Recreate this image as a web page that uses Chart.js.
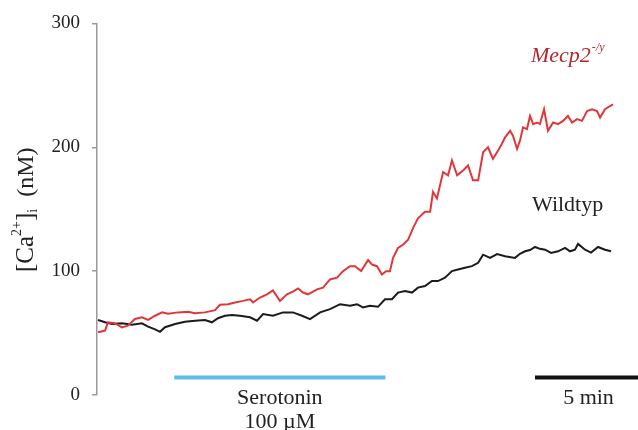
<!DOCTYPE html>
<html>
<head>
<meta charset="utf-8">
<script src="https://cdn.jsdelivr.net/npm/chart.js@4"></script>
<style>
  html, body { margin: 0; padding: 0; background: #fff; }
  #wrap { width: 638px; height: 430px; }
</style>
</head>
<body>
<div id="wrap"><canvas id="caChart" width="638" height="430"></canvas></div>
<script>
// time in minutes, [Ca2+]i in nM
const mecpTime = [0.05, 0.39, 0.53, 0.87, 1.21, 1.50, 1.84, 2.18, 2.48, 2.82, 3.16, 3.45, 3.93, 4.42, 4.76,
  5.24, 5.73, 5.97, 6.36, 6.70, 7.09, 7.43, 7.57, 7.91, 8.25, 8.54, 8.88, 9.22, 9.51, 9.76, 10.00, 10.24,
  10.68, 10.97, 11.31, 11.65, 11.94, 12.28, 12.52, 12.82, 13.16, 13.35, 13.59, 13.83, 14.03, 14.22, 14.37,
  14.61, 14.85, 15.10, 15.34, 15.58, 15.92, 16.17, 16.31, 16.50, 16.80, 17.04, 17.23, 17.48, 17.77, 18.01,
  18.25, 18.50, 18.74, 18.98, 19.22, 19.47, 19.66, 19.81, 20.05, 20.19, 20.39, 20.53, 20.68, 20.87, 21.02,
  21.17, 21.36, 21.50, 21.70, 21.89, 22.14, 22.38, 22.62, 22.86, 23.06, 23.30, 23.54, 23.79, 24.03, 24.27,
  24.42, 24.66, 24.90, 25.05];
const mecpCa = [50.6, 52, 58.6, 58, 54.6, 56, 61.4, 62.7, 60.6, 64, 66.7, 65.6, 66.7, 67.2, 66,
  66.7, 68.5, 72.8, 73.3, 74.7, 76, 77.3, 74.7, 78.7, 81.3, 84.5, 76, 81.3, 83.5, 86, 82.7, 81.3,
  85.3, 86.7, 93.3, 94.7, 100, 104, 104, 100, 109, 105.3, 104, 97.3, 100, 100, 110.7,
  118.7, 121.3, 125.3, 134.7, 142.7, 148, 148, 164, 158.7, 180, 177.3, 189.3, 177.3, 181.3, 185.3,
  173.3, 173.3, 196, 200, 190.7, 197.3, 203, 208, 213.3, 209.3, 198.7, 205.3, 216, 214.7, 225.3,
  218.7, 220, 218.7, 230.7, 213.3, 220, 218.7, 221.3, 225.3, 220, 222.7, 221.3, 229.3, 230.7, 229.3,
  224, 230.7, 233.3, 234.7];

const wtTime = [0.05, 0.39, 0.73, 1.21, 1.70, 2.18, 2.48, 2.82, 3.06, 3.30, 3.79, 4.27, 4.76, 5.24, 5.58,
  5.87, 6.21, 6.55, 6.94, 7.43, 7.77, 8.06, 8.54, 9.03, 9.51, 9.95, 10.34, 10.83, 11.31, 11.80, 12.28,
  12.62, 12.91, 13.25, 13.64, 13.98, 14.32, 14.61, 14.95, 15.29, 15.58, 15.92, 16.26, 16.55, 16.89, 17.23,
  17.52, 17.86, 18.20, 18.50, 18.74, 19.08, 19.42, 19.81, 20.29, 20.53, 20.78, 21.02, 21.26, 21.50, 21.75,
  22.04, 22.38, 22.72, 22.96, 23.20, 23.35, 23.69, 23.98, 24.32, 24.66, 24.95];
const wtCa = [60.5, 58.7, 57.3, 57.9, 56.8, 57.9, 55.2, 53, 51, 54.7, 57.3, 59.2, 60, 60.5, 58.7,
  62, 64, 64.5, 64, 62.7, 60, 65.3, 64, 66.7, 66.7, 64, 61.3, 66.7, 69.3, 73.3, 72,
  73.3, 70.7, 72, 71.2, 77.3, 77.3, 82.7, 84, 82.7, 86.7, 88, 92, 92, 94.7, 100,
  101.3, 102.7, 104, 106.7, 113.3, 110.7, 113.8, 112, 110.7, 114, 116, 117, 119.5, 118, 117.3,
  114.7, 116, 118.7, 116, 117.3, 122, 117.3, 115, 119.5, 117.3, 116];

const serotoninMin = [3.75, 14.0];   // application period
const scaleBarMin = [21.26, 26.26];  // 5 min
const barLevel = 14.2;               // nM level where the two bars sit
const yTicks = [0, 100, 200, 300];

const xMax = 26.26;
const serif = "'Liberation Serif', 'DejaVu Serif', serif";

function pairs(xs, ys) {
  return xs.map((x, i) => ({ x: x, y: ys[i] }));
}

const labelsPlugin = {
  id: 'labels',
  afterDraw(chart) {
    const ctx = chart.ctx;
    const xs = chart.scales.x, ys = chart.scales.y;
    ctx.save();
    ctx.textBaseline = 'alphabetic';

    // y axis title: [Ca2+]i (nM), drawn upward from y=272
    ctx.translate(33, 272);
    ctx.rotate(-Math.PI / 2);
    const parts = [
      { t: '[Ca', f: '25px ' + serif, dy: 0 },
      { t: '2+', f: '14px ' + serif, dy: -12 },
      { t: ']', f: '25px ' + serif, dy: 0 },
      { t: 'i', f: '14px ' + serif, dy: 4 },
      { t: '  (nM)', f: '24px ' + serif, dy: 0 }
    ];
    let cx = 0;
    ctx.fillStyle = '#222';
    ctx.textAlign = 'left';
    parts.forEach(p => {
      ctx.font = p.f;
      ctx.fillText(p.t, cx, p.dy);
      cx += ctx.measureText(p.t).width;
    });
    ctx.restore();

    ctx.save();
    ctx.fillStyle = '#222';
    ctx.textAlign = 'center';
    ctx.font = '22px ' + serif;
    const base = ys.getPixelForValue(0);
    const serX = (xs.getPixelForValue(serotoninMin[0]) + xs.getPixelForValue(serotoninMin[1])) / 2;
    ctx.fillText('Serotonin', serX, base + 9);
    ctx.fillText('100 \u00b5M', serX, base + 33);
    const barX = (xs.getPixelForValue(scaleBarMin[0]) + xs.getPixelForValue(scaleBarMin[1])) / 2;
    ctx.fillText('5 min', barX + 2, base + 9);

    ctx.textAlign = 'left';
    ctx.fillText('Wildtyp', 532, 211);

    ctx.fillStyle = '#b3272d';
    ctx.font = 'italic 22px ' + serif;
    ctx.fillText('Mecp2', 531, 62);
    const w = ctx.measureText('Mecp2').width;
    ctx.font = 'italic 12px ' + serif;
    ctx.fillText('-/y', 531 + w + 1, 51);
    ctx.restore();
  }
};

const ctx = document.getElementById('caChart').getContext('2d');
new Chart(ctx, {
  type: 'line',
  data: {
    datasets: [
      {
        label: 'Mecp2-/y',
        data: pairs(mecpTime, mecpCa),
        borderColor: '#e0383a',
        borderWidth: 2,
        pointRadius: 0,
        tension: 0
      },
      {
        label: 'Wildtyp',
        data: pairs(wtTime, wtCa),
        borderColor: '#1b1b1b',
        borderWidth: 2,
        pointRadius: 0,
        tension: 0
      },
      {
        label: 'Serotonin 100 µM',
        data: pairs(serotoninMin, [barLevel, barLevel]),
        borderColor: '#5bbde8',
        borderWidth: 4,
        pointRadius: 0
      },
      {
        label: '5 min',
        data: pairs(scaleBarMin, [barLevel, barLevel]),
        borderColor: '#111',
        borderWidth: 4,
        pointRadius: 0
      }
    ]
  },
  options: {
    responsive: false,
    animation: false,
    layout: { padding: { left: 0, right: 0, top: 17, bottom: 35 } },
    plugins: {
      legend: { display: false },
      tooltip: { enabled: false }
    },
    scales: {
      x: {
        type: 'linear',
        min: 0,
        max: xMax,
        display: false
      },
      y: {
        min: 0,
        max: 300,
        afterFit(scale) { scale.width = 97; },
        afterBuildTicks(scale) { scale.ticks = yTicks.map(v => ({ value: v })); },
        grid: { drawOnChartArea: false, drawTicks: true, tickLength: 5, color: '#9a9a9a', lineWidth: 1.5 },
        border: { color: '#9a9a9a', width: 1.5 },
        ticks: {
          color: '#222',
          padding: 12,
          font: { family: serif, size: 19 }
        }
      }
    }
  },
  plugins: [labelsPlugin]
});
</script>
</body>
</html>
